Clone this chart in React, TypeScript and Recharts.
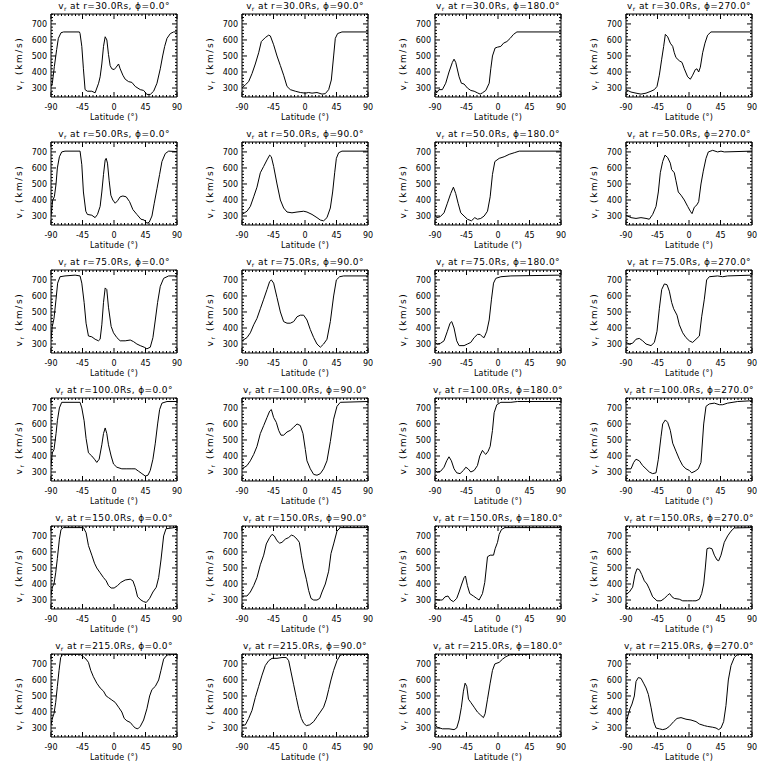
import React from 'react';
import { LineChart, Line, XAxis, YAxis } from 'recharts';

const FONT = '"DejaVu Sans", Verdana, sans-serif';
const radii = ['30.0', '50.0', '75.0', '100.0', '150.0', '215.0'];
const phis = ['0.0', '90.0', '180.0', '270.0'];
const xMajor = [-90, -45, 0, 45, 90];
const yMajor = [300, 400, 500, 600, 700];
const xTicks = [-90, -85, -80, -75, -70, -65, -60, -55, -50, -45, -40, -35, -30, -25, -20, -15, -10, -5, 0, 5, 10, 15, 20, 25, 30, 35, 40, 45, 50, 55, 60, 65, 70, 75, 80, 85, 90];
const yTicks = [260, 280, 300, 320, 340, 360, 380, 400, 420, 440, 460, 480, 500, 520, 540, 560, 580, 600, 620, 640, 660, 680, 700, 720, 740, 760];
const xDomain = [-90, 90];
const yDomain = [244, 762];

type Pt = [number, number];

// r = 30 Rs
const v30_0: Pt[] = [[-90, 310], [-88.1, 330], [-85.2, 435], [-81.9, 540], [-79.5, 610], [-75.7, 645], [-72, 650], [-49.4, 650], [-48.5, 640], [-46, 560], [-43.7, 420], [-41.3, 290], [-38, 280], [-31.7, 280], [-27, 270], [-22, 330], [-19.8, 370], [-17.4, 450], [-15, 560], [-12.6, 620], [-10.2, 600], [-7.9, 510], [-5.5, 440], [-3.1, 420], [0.2, 415], [3.1, 430], [6.5, 450], [8.8, 420], [12.7, 380], [16, 355], [20.8, 340], [25.6, 335], [30.3, 310], [37.5, 290], [42.3, 285], [47, 260], [51.8, 260], [56.6, 280], [61.4, 330], [66.1, 420], [69.5, 500], [72.4, 560], [75.7, 610], [80.5, 640], [85.2, 650], [90, 650]];
const v30_90: Pt[] = [[-90, 300], [-85.2, 320], [-80.5, 340], [-75.7, 390], [-71, 450], [-66.2, 520], [-62.4, 590], [-56.7, 615], [-51.9, 630], [-49.5, 625], [-44.8, 570], [-40, 500], [-35.2, 440], [-30.5, 380], [-25.7, 310], [-21, 290], [-13.8, 280], [-6.7, 272], [0.5, 268], [5.2, 272], [10, 268], [17.1, 272], [24.3, 262], [29, 265], [33.8, 290], [37.6, 350], [40.9, 500], [43.3, 610], [46.6, 640], [52.8, 650], [90, 650]];
const v30_180: Pt[] = [[-90, 290], [-87.6, 270], [-84.3, 290], [-79.5, 290], [-74.7, 330], [-70, 400], [-65.2, 460], [-62.8, 480], [-60.4, 460], [-55.6, 370], [-52.3, 330], [-48.5, 325], [-43.7, 300], [-38.9, 285], [-34.1, 280], [-29.4, 270], [-25.5, 262], [-22.2, 270], [-17.4, 285], [-12.6, 330], [-10.3, 420], [-7.9, 500], [-4.1, 550], [-0.7, 555], [4.1, 560], [7.9, 580], [12.7, 590], [17.4, 610], [22.2, 635], [27, 650], [90, 650]];
const v30_270: Pt[] = [[-90, 290], [-82.9, 275], [-75.7, 268], [-68.6, 262], [-61.4, 268], [-54.3, 280], [-49.5, 290], [-45.7, 310], [-42.4, 380], [-39, 480], [-36.2, 560], [-33.8, 635], [-30.5, 620], [-26.7, 580], [-23.3, 560], [-21, 520], [-18.6, 490], [-13.8, 470], [-10, 460], [-6.7, 420], [-1.9, 370], [1.9, 355], [5.2, 380], [9, 415], [11.4, 420], [13.8, 400], [16.2, 430], [19.5, 520], [22.8, 580], [26.6, 630], [31.4, 650], [90, 650]];

// r = 50 Rs
const v50_0: Pt[] = [[-90, 300], [-87.6, 400], [-85.2, 420], [-82.8, 500], [-80.9, 600], [-78, 670], [-74.7, 700], [-70, 705], [-48.5, 705], [-46, 620], [-43.7, 450], [-40.3, 330], [-38, 310], [-31.7, 305], [-27, 290], [-23.6, 310], [-19.8, 360], [-17.4, 450], [-15, 560], [-12.6, 650], [-11.2, 660], [-9.3, 630], [-6.9, 520], [-4.5, 430], [-1.7, 400], [1.7, 380], [5, 395], [8.8, 420], [12.7, 425], [17.4, 420], [22.2, 390], [27, 340], [32.7, 310], [38.5, 280], [43.2, 275], [47, 255], [50.4, 262], [54.2, 300], [57.5, 380], [61.4, 470], [65.2, 560], [68.5, 640], [73.3, 690], [78.1, 705], [90, 702]];
const v50_90: Pt[] = [[-90, 310], [-82.9, 330], [-78.1, 360], [-73.3, 420], [-68.6, 480], [-63.8, 570], [-59, 610], [-54.3, 650], [-50.5, 680], [-48.1, 670], [-44.8, 610], [-40, 500], [-35.2, 400], [-30.5, 350], [-25.7, 325], [-18.6, 320], [-11.4, 325], [-1.9, 330], [2.8, 325], [10, 310], [17.1, 290], [21.9, 275], [26.6, 270], [31.4, 290], [36.2, 350], [39.5, 450], [42.4, 570], [44.8, 660], [48.1, 695], [52.8, 705], [90, 705]];
const v50_180: Pt[] = [[-90, 310], [-87.6, 290], [-82.8, 295], [-77.1, 320], [-72.3, 380], [-67.6, 440], [-63.7, 480], [-60.4, 440], [-57, 380], [-53.2, 320], [-48.5, 300], [-43.7, 280], [-38, 270], [-33.2, 290], [-29.4, 280], [-24.6, 285], [-19.8, 300], [-15, 330], [-11.2, 420], [-7.9, 560], [-4.5, 640], [1.7, 660], [8.8, 670], [16, 685], [23.2, 695], [30.3, 705], [90, 705]];
const v50_270: Pt[] = [[-90, 305], [-82.9, 290], [-75.7, 285], [-68.6, 290], [-61.4, 285], [-56.7, 280], [-51.9, 310], [-47.1, 360], [-43.8, 450], [-41, 570], [-37.6, 640], [-34.3, 680], [-30.5, 665], [-26.7, 630], [-24.8, 590], [-21, 570], [-18.6, 520], [-15.3, 450], [-11.4, 430], [-6.7, 400], [-1.9, 360], [1.9, 330], [4.3, 315], [7.6, 355], [11.4, 370], [13.8, 390], [17.1, 500], [20.4, 580], [24.3, 660], [27.6, 700], [33.8, 710], [40.9, 700], [45.7, 705], [50.4, 700], [90, 705]];

// r = 75 Rs
const v75_0: Pt[] = [[-90, 330], [-88.1, 410], [-85.7, 460], [-82.8, 580], [-80.5, 680], [-77.1, 720], [-70, 725], [-55.6, 730], [-48.5, 725], [-46, 680], [-42.7, 560], [-39.9, 430], [-36.5, 350], [-31.7, 345], [-27, 330], [-22.2, 320], [-19.8, 330], [-17.4, 420], [-15, 560], [-12.6, 650], [-10.3, 640], [-7.9, 530], [-4.1, 410], [-0.7, 370], [4.1, 340], [8.8, 320], [16, 320], [23.2, 325], [27.9, 315], [32.7, 300], [37.5, 290], [43.2, 280], [47, 270], [51.8, 280], [55.6, 340], [59, 450], [62.3, 560], [66.1, 660], [70.9, 710], [78.1, 725], [90, 725]];
const v75_90: Pt[] = [[-90, 320], [-82.9, 340], [-78.1, 370], [-73.3, 420], [-68.6, 460], [-63.8, 520], [-59, 580], [-54.3, 640], [-50.5, 690], [-48.1, 700], [-44.8, 680], [-40, 590], [-35.2, 500], [-30.5, 440], [-25.7, 430], [-21, 430], [-16.2, 440], [-11.4, 470], [-6.7, 480], [-1.9, 480], [2.8, 450], [7.6, 390], [12.4, 340], [17.1, 300], [21.9, 280], [26.6, 300], [31.4, 330], [36.2, 440], [40.9, 600], [44.8, 700], [49.5, 720], [55.2, 725], [90, 725]];
const v75_180: Pt[] = [[-90, 310], [-86.7, 300], [-81.9, 305], [-77.1, 320], [-72.3, 380], [-68.5, 430], [-66.1, 440], [-62.8, 400], [-59, 320], [-55.6, 290], [-48.5, 290], [-43.7, 300], [-38.9, 310], [-34.1, 340], [-29.4, 360], [-25.5, 360], [-22.2, 345], [-19.8, 340], [-16, 380], [-12.6, 450], [-9.3, 580], [-6.4, 680], [-3.1, 710], [4.1, 720], [18.4, 725], [90, 730]];
const v75_270: Pt[] = [[-90, 310], [-85.2, 300], [-80.5, 305], [-75.7, 330], [-71, 335], [-66.2, 320], [-61.4, 300], [-54.3, 290], [-49.5, 310], [-45.7, 380], [-42.4, 520], [-39, 640], [-35.2, 675], [-31.4, 670], [-28.1, 630], [-24.8, 560], [-21.9, 520], [-17.1, 480], [-13.8, 420], [-9, 370], [-4.3, 340], [0.5, 320], [5.2, 310], [10, 330], [14.8, 350], [18.1, 470], [21.9, 580], [25.2, 700], [29, 720], [40.9, 725], [48.1, 720], [55.2, 725], [90, 730]];

// r = 100 Rs
const v100_0: Pt[] = [[-90, 340], [-88.1, 420], [-85.7, 440], [-82.8, 540], [-80.9, 620], [-78, 700], [-74.7, 735], [-48.5, 735], [-46, 700], [-42.7, 620], [-39.9, 510], [-36.5, 420], [-31.7, 400], [-27.9, 380], [-24.6, 360], [-21.2, 380], [-17.4, 470], [-15, 540], [-12.6, 575], [-10.3, 540], [-7.9, 470], [-4.1, 400], [-0.7, 350], [4.1, 330], [11.2, 320], [18.4, 320], [25.6, 320], [30.3, 320], [35.1, 305], [39.9, 290], [44.7, 275], [48.5, 280], [51.8, 310], [55.6, 380], [59, 480], [62.3, 600], [65.2, 690], [68.5, 730], [75.7, 740], [90, 740]];
const v100_90: Pt[] = [[-90, 320], [-82.9, 340], [-78.1, 370], [-73.3, 410], [-68.6, 460], [-63.8, 540], [-59, 590], [-54.3, 640], [-50.5, 680], [-48.1, 690], [-44.8, 640], [-41, 610], [-37.6, 560], [-34.3, 530], [-30.5, 530], [-25.7, 550], [-21, 560], [-16.2, 580], [-11.4, 600], [-6.7, 590], [-2.9, 540], [0.5, 440], [2.8, 370], [7.6, 320], [12.4, 285], [17.1, 280], [21.9, 290], [26.6, 320], [31.4, 370], [36.2, 490], [40.9, 630], [45.7, 710], [50.4, 735], [90, 740]];
const v100_180: Pt[] = [[-90, 310], [-86.7, 300], [-81.9, 305], [-77.1, 330], [-73.3, 370], [-70, 395], [-66.6, 370], [-62.8, 320], [-59, 295], [-54.2, 290], [-49.4, 310], [-46, 330], [-42.7, 320], [-38.9, 300], [-34.1, 310], [-29.4, 340], [-26, 400], [-22.2, 435], [-19.8, 420], [-17.4, 410], [-14.1, 430], [-11.2, 460], [-7.9, 560], [-5.5, 670], [-1.7, 720], [4.1, 735], [18.4, 735], [27.9, 740], [90, 740]];
const v100_270: Pt[] = [[-90, 320], [-82.9, 320], [-79, 360], [-75.7, 380], [-71, 370], [-66.2, 340], [-61.4, 320], [-56.7, 300], [-51.9, 290], [-47.1, 295], [-43.8, 380], [-40, 520], [-37.6, 600], [-33.8, 625], [-30.5, 610], [-26.7, 560], [-23.3, 480], [-18.6, 430], [-13.8, 380], [-9, 340], [-4.3, 320], [0.5, 310], [3.8, 295], [8.6, 305], [13.3, 320], [17.1, 360], [21, 600], [24.3, 710], [29, 725], [36.2, 730], [43.3, 720], [48.1, 720], [55.2, 730], [69.5, 740], [90, 745]];

// r = 150 Rs
const v150_0: Pt[] = [[-90, 330], [-88.1, 380], [-85.7, 400], [-83.3, 470], [-80.9, 560], [-78, 680], [-75.7, 740], [-72.3, 752], [-43.7, 752], [-39.9, 720], [-36.5, 640], [-31.7, 580], [-27.9, 530], [-24.6, 500], [-19.8, 470], [-15, 440], [-11.2, 420], [-7.9, 390], [-4.1, 375], [0.2, 375], [5, 390], [9.8, 410], [16, 425], [23.2, 430], [27, 420], [30.3, 380], [33.7, 320], [38.5, 300], [42.3, 290], [46.1, 285], [50.9, 310], [55.6, 350], [60.4, 380], [63.8, 440], [67.1, 550], [70.9, 700], [74.3, 745], [90, 754]];
const v150_90: Pt[] = [[-90, 325], [-82.9, 325], [-78.1, 350], [-73.3, 390], [-68.6, 440], [-63.8, 520], [-59, 580], [-55.3, 650], [-50.5, 690], [-47.1, 710], [-43.8, 700], [-40, 670], [-36.2, 655], [-32.9, 660], [-28.1, 680], [-23.3, 690], [-19.5, 705], [-16.2, 700], [-11.4, 680], [-8.1, 660], [-5.2, 580], [-1.9, 500], [1.9, 430], [5.2, 360], [8.6, 310], [12.4, 300], [17.1, 300], [21, 310], [24.3, 350], [29, 400], [33.8, 480], [37.1, 590], [40.9, 650], [45.7, 730], [50.4, 752], [90, 752]];
const v150_180: Pt[] = [[-90, 305], [-84.3, 300], [-79.5, 300], [-75.7, 320], [-71.4, 325], [-67.6, 300], [-63.7, 290], [-59, 310], [-55.6, 350], [-51.8, 400], [-48.5, 440], [-46.5, 450], [-43.7, 390], [-40.3, 340], [-35.1, 325], [-30.3, 310], [-27, 300], [-22.2, 340], [-18.9, 410], [-15, 570], [-11.2, 580], [-6.4, 580], [-4.1, 620], [-0.7, 660], [1.7, 710], [5, 740], [9.8, 752], [90, 752]];
const v150_270: Pt[] = [[-90, 335], [-85.2, 350], [-80.5, 380], [-77.1, 460], [-74.3, 495], [-71, 490], [-67.6, 460], [-63.8, 420], [-60, 400], [-56.7, 370], [-51.9, 320], [-45.7, 295], [-40, 295], [-35.2, 310], [-30.5, 330], [-27.6, 340], [-24.3, 320], [-21, 310], [-13.8, 305], [-9, 295], [-1.9, 295], [5.2, 295], [10, 295], [14.8, 305], [18.1, 340], [21, 400], [23.3, 500], [25.7, 620], [29, 625], [32.8, 620], [36.2, 580], [40, 550], [42.4, 545], [45.7, 580], [50.4, 660], [55.2, 700], [60, 730], [64.7, 750], [90, 752]];

// r = 215 Rs
const v215_0: Pt[] = [[-90, 320], [-88.1, 360], [-85.7, 390], [-83.3, 460], [-80.9, 560], [-78.5, 660], [-76.2, 740], [-73.3, 760], [-48.5, 760], [-43.7, 745], [-39.9, 730], [-36.5, 710], [-33.2, 660], [-29.4, 620], [-24.6, 580], [-19.8, 550], [-15, 530], [-11.2, 500], [-7.9, 490], [-3.1, 475], [1.7, 460], [6.5, 430], [11.2, 400], [14.6, 360], [18.4, 345], [23.2, 335], [27, 315], [30.3, 300], [34.1, 295], [37.5, 310], [42.3, 350], [47, 420], [50.9, 500], [54.2, 540], [59, 560], [63.8, 600], [67.1, 660], [70.9, 730], [75.7, 755], [80.5, 760], [90, 760]];
const v215_90: Pt[] = [[-90, 315], [-85.2, 320], [-80.5, 360], [-75.7, 410], [-71, 490], [-66.2, 560], [-61.4, 630], [-56.7, 690], [-51.9, 720], [-47.1, 735], [-40, 735], [-32.9, 740], [-26.7, 740], [-23.3, 720], [-20, 650], [-16.2, 570], [-12.4, 490], [-9, 420], [-5.2, 360], [-1.9, 330], [1.9, 315], [6.7, 320], [12.4, 340], [17.1, 370], [21.9, 400], [26.6, 430], [30.5, 480], [33.8, 540], [37.1, 600], [40.9, 660], [45.7, 720], [50.4, 755], [55.2, 760], [90, 760]];
const v215_180: Pt[] = [[-90, 320], [-86.7, 305], [-79.5, 295], [-70, 295], [-62.8, 290], [-59, 300], [-55.6, 350], [-52.3, 430], [-49.4, 530], [-47, 580], [-44.6, 560], [-42.2, 480], [-38.9, 460], [-34.1, 430], [-29.4, 400], [-24.6, 380], [-20.8, 365], [-18.4, 390], [-15, 480], [-11.2, 580], [-7.9, 660], [-4.5, 700], [1.7, 710], [6.5, 730], [11.2, 745], [16, 755], [20, 760], [44.7, 760]];
const v215_270: Pt[] = [[-90, 330], [-87.6, 370], [-84.3, 420], [-81.4, 450], [-78.1, 500], [-75.7, 590], [-72.4, 615], [-68.6, 610], [-64.9, 580], [-61.4, 550], [-58.1, 510], [-54.3, 430], [-50.5, 340], [-47.1, 300], [-42.4, 295], [-37.6, 290], [-32.9, 295], [-28.1, 310], [-21.9, 340], [-17.1, 360], [-11.4, 365], [-4.3, 355], [2.8, 350], [10, 340], [14.8, 325], [21.9, 315], [26.6, 310], [33.8, 305], [38.6, 300], [42.4, 290], [45.7, 300], [49.5, 340], [52.8, 440], [56.2, 600], [60, 690], [64.7, 740], [69.5, 760], [90, 760]];

const seriesGrid: Pt[][][] = [
  [v30_0, v30_90, v30_180, v30_270],
  [v50_0, v50_90, v50_180, v50_270],
  [v75_0, v75_90, v75_180, v75_270],
  [v100_0, v100_90, v100_180, v100_270],
  [v150_0, v150_90, v150_180, v150_270],
  [v215_0, v215_90, v215_180, v215_270],
];

const colLeft = [0, 191, 384, 575];

const BottomTick = (p: any) => {
  const major = xMajor.includes(p.payload.value);
  return (
    <g>
      <line x1={p.x} y1={p.y} x2={p.x} y2={p.y - (major ? 5 : 2)} stroke="#000" strokeWidth={1} />
      {major && (
        <text x={p.x} y={p.y + 13} textAnchor="middle" fontSize={8} fontFamily={FONT} fill="#000">
          {p.payload.value}
        </text>
      )}
    </g>
  );
};
const TopTick = (p: any) => {
  const major = xMajor.includes(p.payload.value);
  return <line x1={p.x} y1={p.y} x2={p.x} y2={p.y + (major ? 5 : 2)} stroke="#000" strokeWidth={1} />;
};
const LeftTick = (p: any) => {
  const major = yMajor.includes(p.payload.value);
  return (
    <g>
      <line x1={p.x} y1={p.y} x2={p.x + (major ? 5 : 2)} y2={p.y} stroke="#000" strokeWidth={1} />
      {major && (
        <text x={p.x - 4} y={p.y + 3} textAnchor="end" fontSize={8} fontFamily={FONT} fill="#000">
          {p.payload.value}
        </text>
      )}
    </g>
  );
};
const RightTick = (p: any) => {
  const major = yMajor.includes(p.payload.value);
  return <line x1={p.x} y1={p.y} x2={p.x - (major ? 5 : 2)} y2={p.y} stroke="#000" strokeWidth={1} />;
};

const makeTitle = (r: string, phi: string) => (props: any) => {
  const vb = props.viewBox;
  return (
    <text
      x={vb.x + vb.width / 2}
      y={vb.y - 4}
      textAnchor="middle"
      fontSize={9}
      letterSpacing={0.4}
      fontFamily={FONT}
      fill="#000"
    >
      v<tspan fontSize={6} dy={2}>r</tspan>
      <tspan dy={-2}>{` at r=${r}Rs, ϕ=${phi}°`}</tspan>
    </text>
  );
};
const XLabel = (props: any) => {
  const vb = props.viewBox;
  return (
    <text
      x={vb.x + vb.width / 2}
      y={vb.y + 23}
      textAnchor="middle"
      fontSize={8}
      letterSpacing={0.2}
      fontFamily={FONT}
      fill="#000"
    >
      Latitude (°)
    </text>
  );
};
const YLabel = (props: any) => {
  const vb = props.viewBox;
  return (
    <text
      transform={`translate(${vb.x + vb.width - 29}, ${vb.y + vb.height / 2 + 8}) rotate(-90)`}
      textAnchor="middle"
      fontSize={9}
      letterSpacing={1.6}
      fontFamily={FONT}
      fill="#000"
    >
      v<tspan fontSize={6} dy={2}>r</tspan>
      <tspan dy={-2}> (km/s)</tspan>
    </text>
  );
};

function Panel({ data, r, phi }: { data: Pt[]; r: string; phi: string }) {
  const rows = data.map(([lat, v]) => ({ lat, v }));
  return (
    <LineChart width={192} height={128} data={rows} margin={{ top: 13, right: 14, bottom: 30, left: 50 }}>
      <XAxis
        xAxisId="b"
        dataKey="lat"
        type="number"
        domain={xDomain}
        allowDataOverflow
        ticks={xTicks}
        interval={0}
        height={1}
        tickSize={0}
        tickMargin={0}
        tick={BottomTick}
        axisLine={{ stroke: '#000' }}
        label={{ content: XLabel }}
      />
      <XAxis
        xAxisId="t"
        orientation="top"
        dataKey="lat"
        type="number"
        domain={xDomain}
        allowDataOverflow
        ticks={xTicks}
        interval={0}
        height={1}
        tickSize={0}
        tickMargin={0}
        tick={TopTick}
        axisLine={{ stroke: '#000' }}
        label={{ content: makeTitle(r, phi) }}
      />
      <YAxis
        yAxisId="l"
        type="number"
        domain={yDomain}
        allowDataOverflow
        ticks={yTicks}
        interval={0}
        width={1}
        tickSize={0}
        tickMargin={0}
        tick={LeftTick}
        axisLine={{ stroke: '#000' }}
        label={{ content: YLabel }}
      />
      <YAxis
        yAxisId="r"
        orientation="right"
        type="number"
        domain={yDomain}
        allowDataOverflow
        ticks={yTicks}
        interval={0}
        width={1}
        tickSize={0}
        tickMargin={0}
        tick={RightTick}
        axisLine={{ stroke: '#000' }}
      />
      <Line
        xAxisId="b"
        yAxisId="l"
        type="linear"
        dataKey="v"
        stroke="#000"
        strokeWidth={1}
        dot={false}
        isAnimationActive={false}
      />
    </LineChart>
  );
}

export default function App() {
  return (
    <div style={{ position: 'absolute', left: 0, top: 0, width: 768, height: 768, background: '#fff' }}>
      {seriesGrid.map((row, i) =>
        row.map((data, j) => (
          <div key={`${i}-${j}`} style={{ position: 'absolute', left: colLeft[j], top: i * 128, width: 192, height: 128 }}>
            <Panel data={data} r={radii[i]} phi={phis[j]} />
          </div>
        ))
      )}
    </div>
  );
}
